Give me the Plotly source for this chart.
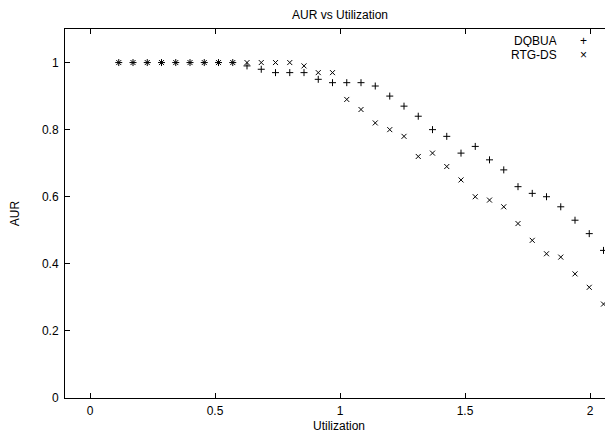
import plotly.graph_objects as go

utilization = [0.115, 0.172, 0.229, 0.286, 0.343, 0.400, 0.457, 0.514, 0.571, 0.628,
               0.685, 0.742, 0.799, 0.856, 0.913, 0.970, 1.027, 1.084, 1.141, 1.199,
               1.256, 1.313, 1.370, 1.427, 1.484, 1.541, 1.598, 1.655, 1.712, 1.769,
               1.826, 1.883, 1.940, 1.997, 2.054]

dqbua = [1.0, 1.0, 1.0, 1.0, 1.0, 1.0, 1.0, 1.0, 1.0, 0.99,
         0.98, 0.97, 0.97, 0.97, 0.95, 0.94, 0.94, 0.94, 0.93, 0.90,
         0.87, 0.84, 0.80, 0.78, 0.73, 0.75, 0.71, 0.68, 0.63, 0.61,
         0.60, 0.57, 0.53, 0.49, 0.44]

rtg_ds = [1.0, 1.0, 1.0, 1.0, 1.0, 1.0, 1.0, 1.0, 1.0, 1.0,
          1.0, 1.0, 1.0, 0.99, 0.97, 0.97, 0.89, 0.86, 0.82, 0.80,
          0.78, 0.72, 0.73, 0.69, 0.65, 0.60, 0.59, 0.57, 0.52, 0.47,
          0.43, 0.42, 0.37, 0.33, 0.28]

x_ticks = [0, 0.5, 1, 1.5, 2]
x_tick_labels = ["0", "0.5", "1", "1.5", "2"]
y_ticks = [0, 0.2, 0.4, 0.6, 0.8, 1.0]
y_tick_labels = ["0", "0.2", "0.4", "0.6", "0.8", "1"]

FONT = "Liberation Sans, Arial, Helvetica, sans-serif"

fig = go.Figure()
fig.add_trace(go.Scatter(
    x=utilization, y=dqbua, mode="markers", name="DQBUA",
    marker=dict(symbol="cross-thin", size=5, color="black",
                line=dict(width=1, color="black")),
    showlegend=False))
fig.add_trace(go.Scatter(
    x=utilization, y=rtg_ds, mode="markers", name="RTG-DS",
    marker=dict(symbol="x-thin", size=5, color="black",
                line=dict(width=1, color="black")),
    showlegend=False))

# page has an 8px body margin; figure is sized/placed so the plot area sits at
# page x 65..613, y 29..398
OFF = 8
W, H = 613 - OFF, 438 - OFF
PL, PT, PB = 65, 29, 398          # plot area edges in page pixels
L, T, B, R = PL - OFF, PT - OFF, 438 - PB, 0
plot_w = 613 - PL
plot_h = PB - PT

fig.update_layout(
    width=W, height=H,
    margin=dict(l=L, r=R, t=T, b=B, pad=0),
    paper_bgcolor="white", plot_bgcolor="white",
    font=dict(family=FONT, size=12, color="black"),
    title=dict(text="AUR vs Utilization", x=(340 - OFF) / W, xref="container",
               xanchor="center", y=1 - (15 - OFF) / H, yanchor="middle", yref="container",
               font=dict(size=12, family=FONT, color="black")),
    xaxis=dict(range=[-0.1, -0.1 + plot_w / 250.0], tickvals=x_ticks, ticktext=x_tick_labels,
               ticks="inside", ticklen=5, tickcolor="black", showline=True, linecolor="black",
               linewidth=1, mirror="ticks", showgrid=False, zeroline=False,
               ticklabelstandoff=2,
               title=dict(text="Utilization", standoff=4, font=dict(size=12, family=FONT))),
    yaxis=dict(range=[0, 1.1], tickvals=y_ticks, ticktext=y_tick_labels,
               ticks="inside", ticklen=5, tickcolor="black", showline=True, linecolor="black",
               linewidth=1, mirror=False, showgrid=False, zeroline=False,
               ticklabelstandoff=3,
               title=dict(text="AUR", standoff=22, font=dict(size=12, family=FONT))),
    yaxis2=dict(range=[0, 1.1], tickvals=y_ticks, overlaying="y", side="right", anchor="x",
                ticks="inside", ticklen=5, tickcolor="black", showline=False,
                showticklabels=False, showgrid=False, zeroline=False),
)

# gnuplot-style key: label text on the left, sample point on the right
legend_rows = [("DQBUA", "+", 40), ("RTG-DS", "×", 54)]
for label, sym, ypx in legend_rows:
    fig.add_annotation(text=label, xref="paper", yref="paper",
                       x=(557.5 - PL) / plot_w, y=(PB - ypx) / plot_h,
                       xanchor="right", yanchor="middle", showarrow=False,
                       borderpad=0, height=13,
                       font=dict(size=12, family=FONT, color="black"))
    fig.add_annotation(text=sym, xref="paper", yref="paper",
                       x=(583 - PL) / plot_w, y=(PB - ypx) / plot_h,
                       xanchor="center", yanchor="middle", showarrow=False,
                       borderpad=0, height=13,
                       font=dict(size=12, family=FONT, color="black"))

fig.write_html("out.html")
